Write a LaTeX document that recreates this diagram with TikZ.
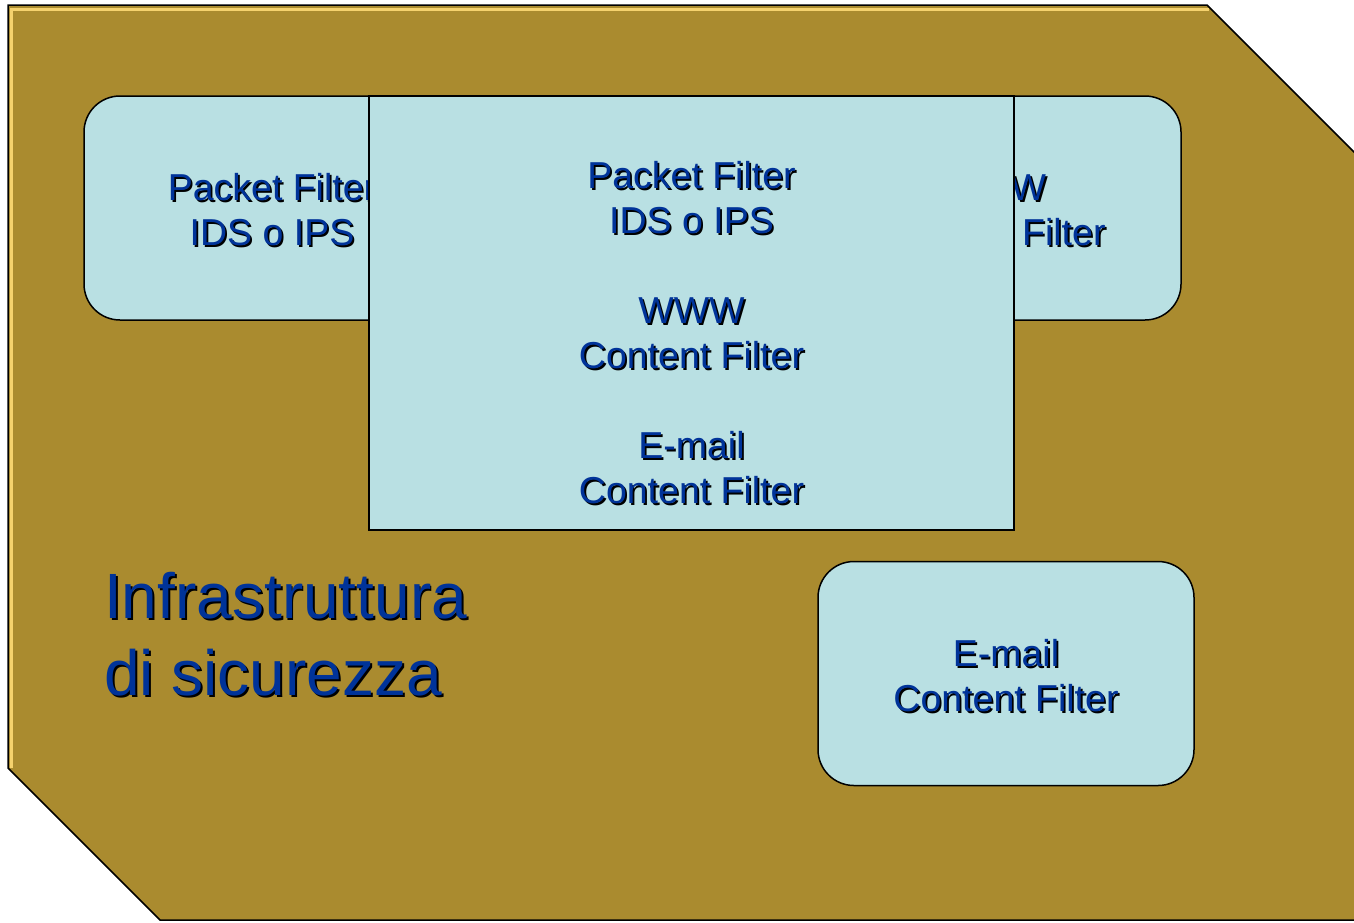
\documentclass[tikz,border=0pt]{standalone}
\usepackage{fontspec}
\setmainfont{Liberation Sans}
\definecolor{olive}{HTML}{AA8B2F}
\definecolor{bevel}{HTML}{F5D26E}
\definecolor{boxfill}{HTML}{B9E0E3}
\definecolor{txtblue}{HTML}{003399}
\newcommand{\shtx}[1]{\rlap{\hspace{1.8pt}\raisebox{-1.8pt}{\color{black}#1}}{\color{txtblue}#1}}
\newcommand{\firstline}{\rule{0pt}{33pt}}
\tikzset{
  filterbox/.style={draw=black, line width=1.5pt, fill=boxfill, rounded corners=36pt,
    minimum width=376pt, minimum height=224pt, align=center, inner sep=0pt,
    font=\fontsize{37.5}{45}\selectfont},
  bigbox/.style={draw=black, line width=1.5pt, fill=boxfill},
  boxtext/.style={align=center, inner sep=0pt, font=\fontsize{37.5}{45}\selectfont},
  titletext/.style={align=left, inner sep=0pt, font=\fontsize{64}{77}\selectfont}
}
\begin{document}
\begin{tikzpicture}[x=1pt,y=-1pt]
\useasboundingbox (0,0) rectangle (1354,922);
\clip (0,0) rectangle (1354,922);
\fill[white] (0,0) rectangle (1354,922);
% background plate
\draw[fill=olive, draw=black, line width=1.5pt]
  (8,5) -- (1207,5) -- (1400,198) -- (1400,920) -- (160,920) -- (8,768) -- cycle;
\draw[bevel, line width=3pt] (11.5,768) -- (11.5,9.5) -- (1209,9.5);
% side boxes
\node[filterbox] (pf) at (272,208) {\firstline\shtx{Packet Filter}\\\shtx{IDS o IPS}};
\node[filterbox] (www) at (993,208) {\firstline\shtx{WWW}\\\shtx{Content Filter}};
\node[filterbox] (mail) at (1006,673.5) {\firstline\shtx{E-mail}\\\shtx{Content Filter}};
% central box
\draw[bigbox] (369,96) rectangle (1014,530);
\coordinate (ctop) at (691.5,161);
\node[boxtext, anchor=north] (ctext) at (ctop)
  {\shtx{Packet Filter}\\\shtx{IDS o IPS}\\[0pt]\mbox{}\\\shtx{WWW}\\\shtx{Content Filter}\\\mbox{}\\\shtx{E-mail}\\\shtx{Content Filter}};
% title
\node[titletext, anchor=north west] (title) at (104,572)
  {\shtx{Infrastruttura}\\\shtx{di sicurezza}};
\end{tikzpicture}
\end{document}
